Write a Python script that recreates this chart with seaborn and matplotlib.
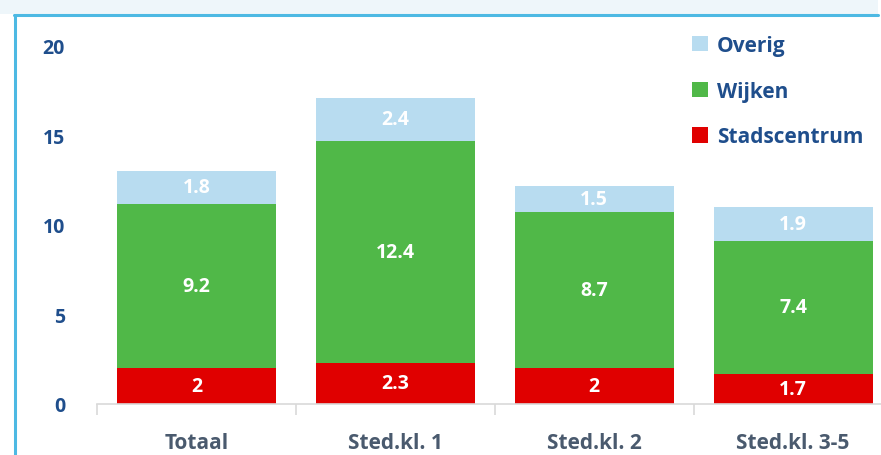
import matplotlib
matplotlib.use("Agg")
import matplotlib.pyplot as plt
from matplotlib.patches import Patch, Rectangle
from matplotlib.lines import Line2D
import numpy as np
import seaborn as sns

categories = ["Totaal", "Sted.kl. 1", "Sted.kl. 2", "Sted.kl. 3-5"]
stadscentrum = [2.0, 2.3, 2.0, 1.7]
wijken = [9.2, 12.4, 8.7, 7.4]
overig = [1.8, 2.4, 1.5, 1.9]

series = [
    ("Stadscentrum", stadscentrum, "#e00000"),
    ("Wijken", wijken, "#50b848"),
    ("Overig", overig, "#b8dcf0"),
]

sns.set_theme(style="white")
plt.rcParams["font.family"] = ["Open Sans", "DejaVu Sans"]

W, H = 881, 456
fig = plt.figure(figsize=(W / 100, H / 100), dpi=100)
fig.patch.set_facecolor("white")

# page frame: pale band on top, blue rule and left border
fig.add_artist(Rectangle((0, 1 - 15 / H), 878 / W, 15 / H, transform=fig.transFigure,
                         facecolor="#eef6fa", edgecolor="none", zorder=0))
fig.add_artist(Line2D([14 / W, 878 / W], [1 - 15.5 / H, 1 - 15.5 / H], transform=fig.transFigure,
                      color="#4db9e3", lw=2.2, zorder=1))
fig.add_artist(Line2D([14.5 / W, 14.5 / W], [0, 1 - 15.5 / H], transform=fig.transFigure,
                      color="#4db9e3", lw=2.2, zorder=1))

x0, x1 = 97, 892.5
y0, y1 = 405, 47
ax = fig.add_axes([x0 / W, 1 - y0 / H, (x1 - x0) / W, (y0 - y1) / H])
ax.set_facecolor("none")

bottom = np.zeros(len(categories))
for name, vals, col in series:
    sns.barplot(x=categories, y=vals, bottom=bottom, color=col, width=0.8,
                saturation=1, ax=ax, label=name, linewidth=0)
    bottom = bottom + np.array(vals)

for cont, (name, vals, col) in zip(ax.containers, series):
    ax.bar_label(cont, labels=[f"{v:g}" for v in vals], label_type="center",
                 color="white", fontsize=14, fontweight="bold")

ax.set_xlim(-0.5, 3.5)
ax.set_ylim(0, 20)
ax.set_yticks([0, 5, 10, 15, 20])
ax.set_yticklabels(["0", "5", "10", "15", "20"], fontsize=14, fontweight="bold",
                   color="#1f4e8c")
ax.tick_params(axis="y", length=0, pad=23)

ax.set_xticks(range(len(categories)))
ax.set_xticklabels(categories, fontsize=15, fontweight="bold", color="#4a5a6e")
ax.set_xticks([-0.5, 0.5, 1.5, 2.5, 3.5], minor=True)
ax.tick_params(axis="x", which="major", length=0, pad=20)
ax.tick_params(axis="x", which="minor", length=8, width=1.2, color="#d9d9d9",
               direction="out", bottom=True)

for s in ["top", "right", "left"]:
    ax.spines[s].set_visible(False)
ax.spines["bottom"].set_color("#d9d9d9")
ax.spines["bottom"].set_linewidth(1.2)
ax.set_xlabel("")
ax.set_ylabel("")

handles = [Patch(facecolor=c, edgecolor="none", label=n)
           for n, _, c in reversed(series)]
leg = ax.legend(handles=handles, loc="upper left",
                bbox_to_anchor=(692 / W, 1 - 36 / H), bbox_transform=fig.transFigure,
                frameon=False, handlelength=0.75, handleheight=0.75, handletextpad=0.45,
                labelspacing=1.18, borderaxespad=0, borderpad=0, prop={"size": 15})
for t in leg.get_texts():
    t.set_fontweight("bold")
    t.set_color("#1f4e8c")

fig.savefig("out.png", dpi=100)
